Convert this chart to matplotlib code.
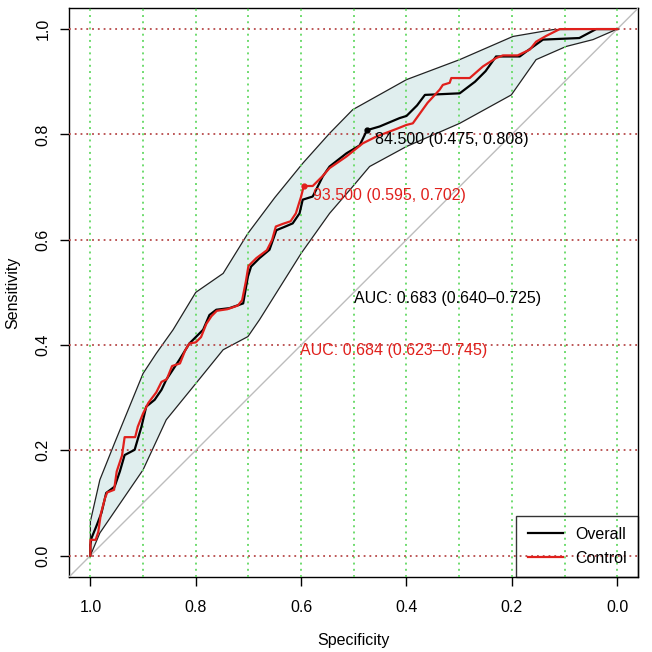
import numpy as np
import matplotlib.pyplot as plt

plt.rcParams['font.family'] = ['Liberation Sans', 'DejaVu Sans']

# ROC-kurve, samlet (svart)
overall_spec = [1.0, 1.0, 0.998, 0.989, 0.979, 0.970, 0.954, 0.944, 0.935, 0.916,
                0.903, 0.894, 0.878, 0.865, 0.856, 0.831, 0.812, 0.799, 0.786, 0.774,
                0.761, 0.736, 0.710, 0.701, 0.695, 0.679, 0.660, 0.647, 0.630, 0.616,
                0.603, 0.597, 0.578, 0.559, 0.546, 0.514, 0.489, 0.475, 0.451, 0.413,
                0.400, 0.380, 0.365, 0.299, 0.270, 0.250, 0.230, 0.185, 0.173, 0.141,
                0.072, 0.040, 0.0]
overall_sens = [0.0, 0.02, 0.033, 0.055, 0.081, 0.119, 0.131, 0.160, 0.191, 0.201,
                0.245, 0.283, 0.296, 0.315, 0.334, 0.372, 0.403, 0.416, 0.429, 0.457,
                0.467, 0.470, 0.479, 0.530, 0.549, 0.565, 0.581, 0.618, 0.625, 0.631,
                0.650, 0.676, 0.682, 0.720, 0.739, 0.764, 0.779, 0.808, 0.815, 0.831,
                0.835, 0.855, 0.875, 0.878, 0.900, 0.920, 0.948, 0.948, 0.957, 0.980,
                0.983, 1.0, 1.0]

# ROC-kurve, kontroll (rød)
control_spec = [1.0, 1.0, 0.990, 0.985, 0.980, 0.972, 0.968, 0.955, 0.950, 0.940,
                0.935, 0.915, 0.910, 0.900, 0.890, 0.875, 0.865, 0.855, 0.845, 0.830,
                0.820, 0.812, 0.800, 0.790, 0.780, 0.770, 0.760, 0.740, 0.720, 0.712,
                0.705, 0.700, 0.685, 0.665, 0.655, 0.648, 0.635, 0.620, 0.610, 0.600,
                0.595, 0.578, 0.560, 0.546, 0.514, 0.483, 0.457, 0.420, 0.400, 0.388,
                0.360, 0.337, 0.331, 0.318, 0.315, 0.280, 0.255, 0.230, 0.217, 0.189,
                0.166, 0.154, 0.135, 0.109, 0.0]
control_sens = [0.0, 0.03, 0.03, 0.045, 0.080, 0.110, 0.120, 0.125, 0.160, 0.190,
                0.225, 0.225, 0.245, 0.270, 0.290, 0.310, 0.330, 0.335, 0.360, 0.365,
                0.390, 0.403, 0.405, 0.415, 0.440, 0.455, 0.465, 0.468, 0.475, 0.485,
                0.520, 0.550, 0.565, 0.580, 0.600, 0.625, 0.630, 0.635, 0.650, 0.682,
                0.702, 0.702, 0.720, 0.736, 0.758, 0.783, 0.796, 0.810, 0.818, 0.821,
                0.860, 0.885, 0.894, 0.898, 0.907, 0.907, 0.929, 0.945, 0.950, 0.950,
                0.961, 0.976, 0.987, 1.0, 1.0]

# Konfidensbånd for sensitivitet
ci_upper_spec = [1.0, 1.0, 0.982, 0.954, 0.900, 0.875, 0.843, 0.800, 0.748, 0.701,
                 0.650, 0.597, 0.546, 0.502, 0.400, 0.299, 0.198, 0.122, 0.0]
ci_upper_sens = [0.0, 0.065, 0.144, 0.214, 0.346, 0.384, 0.429, 0.500, 0.536, 0.612,
                 0.680, 0.745, 0.802, 0.847, 0.904, 0.942, 0.986, 0.999, 1.0]
ci_lower_spec = [1.0, 0.982, 0.900, 0.856, 0.799, 0.748, 0.701, 0.679, 0.600, 0.546,
                 0.502, 0.470, 0.400, 0.299, 0.201, 0.154, 0.097, 0.046, 0.0]
ci_lower_sens = [0.0, 0.043, 0.163, 0.258, 0.328, 0.391, 0.416, 0.448, 0.574, 0.650,
                 0.701, 0.739, 0.777, 0.821, 0.875, 0.942, 0.967, 0.980, 1.0]

# Terskler og AUC
thr_overall = (0.475, 0.808, "84.500 (0.475, 0.808)")
thr_control = (0.595, 0.702, "93.500 (0.595, 0.702)")
auc_overall = "AUC: 0.683 (0.640\u20130.725)"
auc_control = "AUC: 0.684 (0.623\u20130.745)"

fig = plt.figure(figsize=(6.52, 6.52), dpi=100)
ax = fig.add_axes([0.1063, 0.1155, 0.8727, 0.8722])

# bånd
poly_x = np.concatenate([ci_upper_spec, ci_lower_spec[::-1]])
poly_y = np.concatenate([ci_upper_sens, ci_lower_sens[::-1]])
ax.fill(poly_x, poly_y, color="#e0eeee", lw=0, zorder=1)
ax.plot(ci_upper_spec, ci_upper_sens, color="#222222", lw=0.9, zorder=2)
ax.plot(ci_lower_spec, ci_lower_sens, color="#222222", lw=0.9, zorder=2)

# rutenett
for v in np.arange(0, 1.01, 0.1):
    ax.axvline(v, color="#6fdc6f", ls=(0, (1, 2.2)), lw=1.4, zorder=3)
for h in np.arange(0, 1.01, 0.2):
    ax.axhline(h, color="#b84a4a", ls=(0, (1, 2.2)), lw=1.3, zorder=3)

ax.axline((1, 0), (0, 1), color="#bdbdbd", lw=1, zorder=3)

ax.plot(overall_spec, overall_sens, color="black", lw=1.6, zorder=5, label="Overall")
ax.plot(control_spec, control_sens, color="#e0201c", lw=1.6, zorder=6, label="Control")

ax.plot(thr_overall[0], thr_overall[1], "o", color="black", ms=3.5, zorder=7)
ax.plot(thr_control[0], thr_control[1], "o", color="#e0201c", ms=3.5, zorder=7)
ax.text(thr_overall[0] - 0.015, thr_overall[1] - 0.018, thr_overall[2], color="black",
        fontsize=11.5, ha="left", va="center", zorder=8)
ax.text(thr_control[0] - 0.017, thr_control[1] - 0.019, thr_control[2], color="#e0201c",
        fontsize=11.5, ha="left", va="center", zorder=8)
ax.text(0.5, 0.488, auc_overall, color="black", fontsize=11.5, ha="left", va="center", zorder=8)
ax.text(0.603, 0.389, auc_control, color="#e0201c", fontsize=11.5, ha="left", va="center", zorder=8)

ax.set_xlim(1.04, -0.04)
ax.set_ylim(-0.04, 1.04)
ax.set_xticks([1.0, 0.8, 0.6, 0.4, 0.2, 0.0])
ax.set_xticklabels(["1.0", "0.8", "0.6", "0.4", "0.2", "0.0"])
ax.set_yticks([0.0, 0.2, 0.4, 0.6, 0.8, 1.0])
ax.set_yticklabels(["0.0", "0.2", "0.4", "0.6", "0.8", "1.0"], rotation=90, va="center")
ax.tick_params(length=6.5, width=1, labelsize=11.5, direction="out")
ax.tick_params(axis="x", pad=10)
ax.tick_params(axis="y", pad=7)
for s in ax.spines.values():
    s.set_linewidth(1)
ax.set_xlabel("Specificity", fontsize=11.5, labelpad=13)
ax.set_ylabel("Sensitivity", fontsize=11.5, labelpad=11)

leg = ax.legend(loc="lower right", borderaxespad=0, fontsize=11.5, fancybox=False,
                edgecolor="black", handlelength=2.2, labelspacing=0.55, borderpad=0.7,
                handletextpad=0.8)
leg.get_frame().set_facecolor("none")
leg.get_frame().set_linewidth(1)
leg.set_zorder(9)

plt.savefig("out.png", dpi=100)
